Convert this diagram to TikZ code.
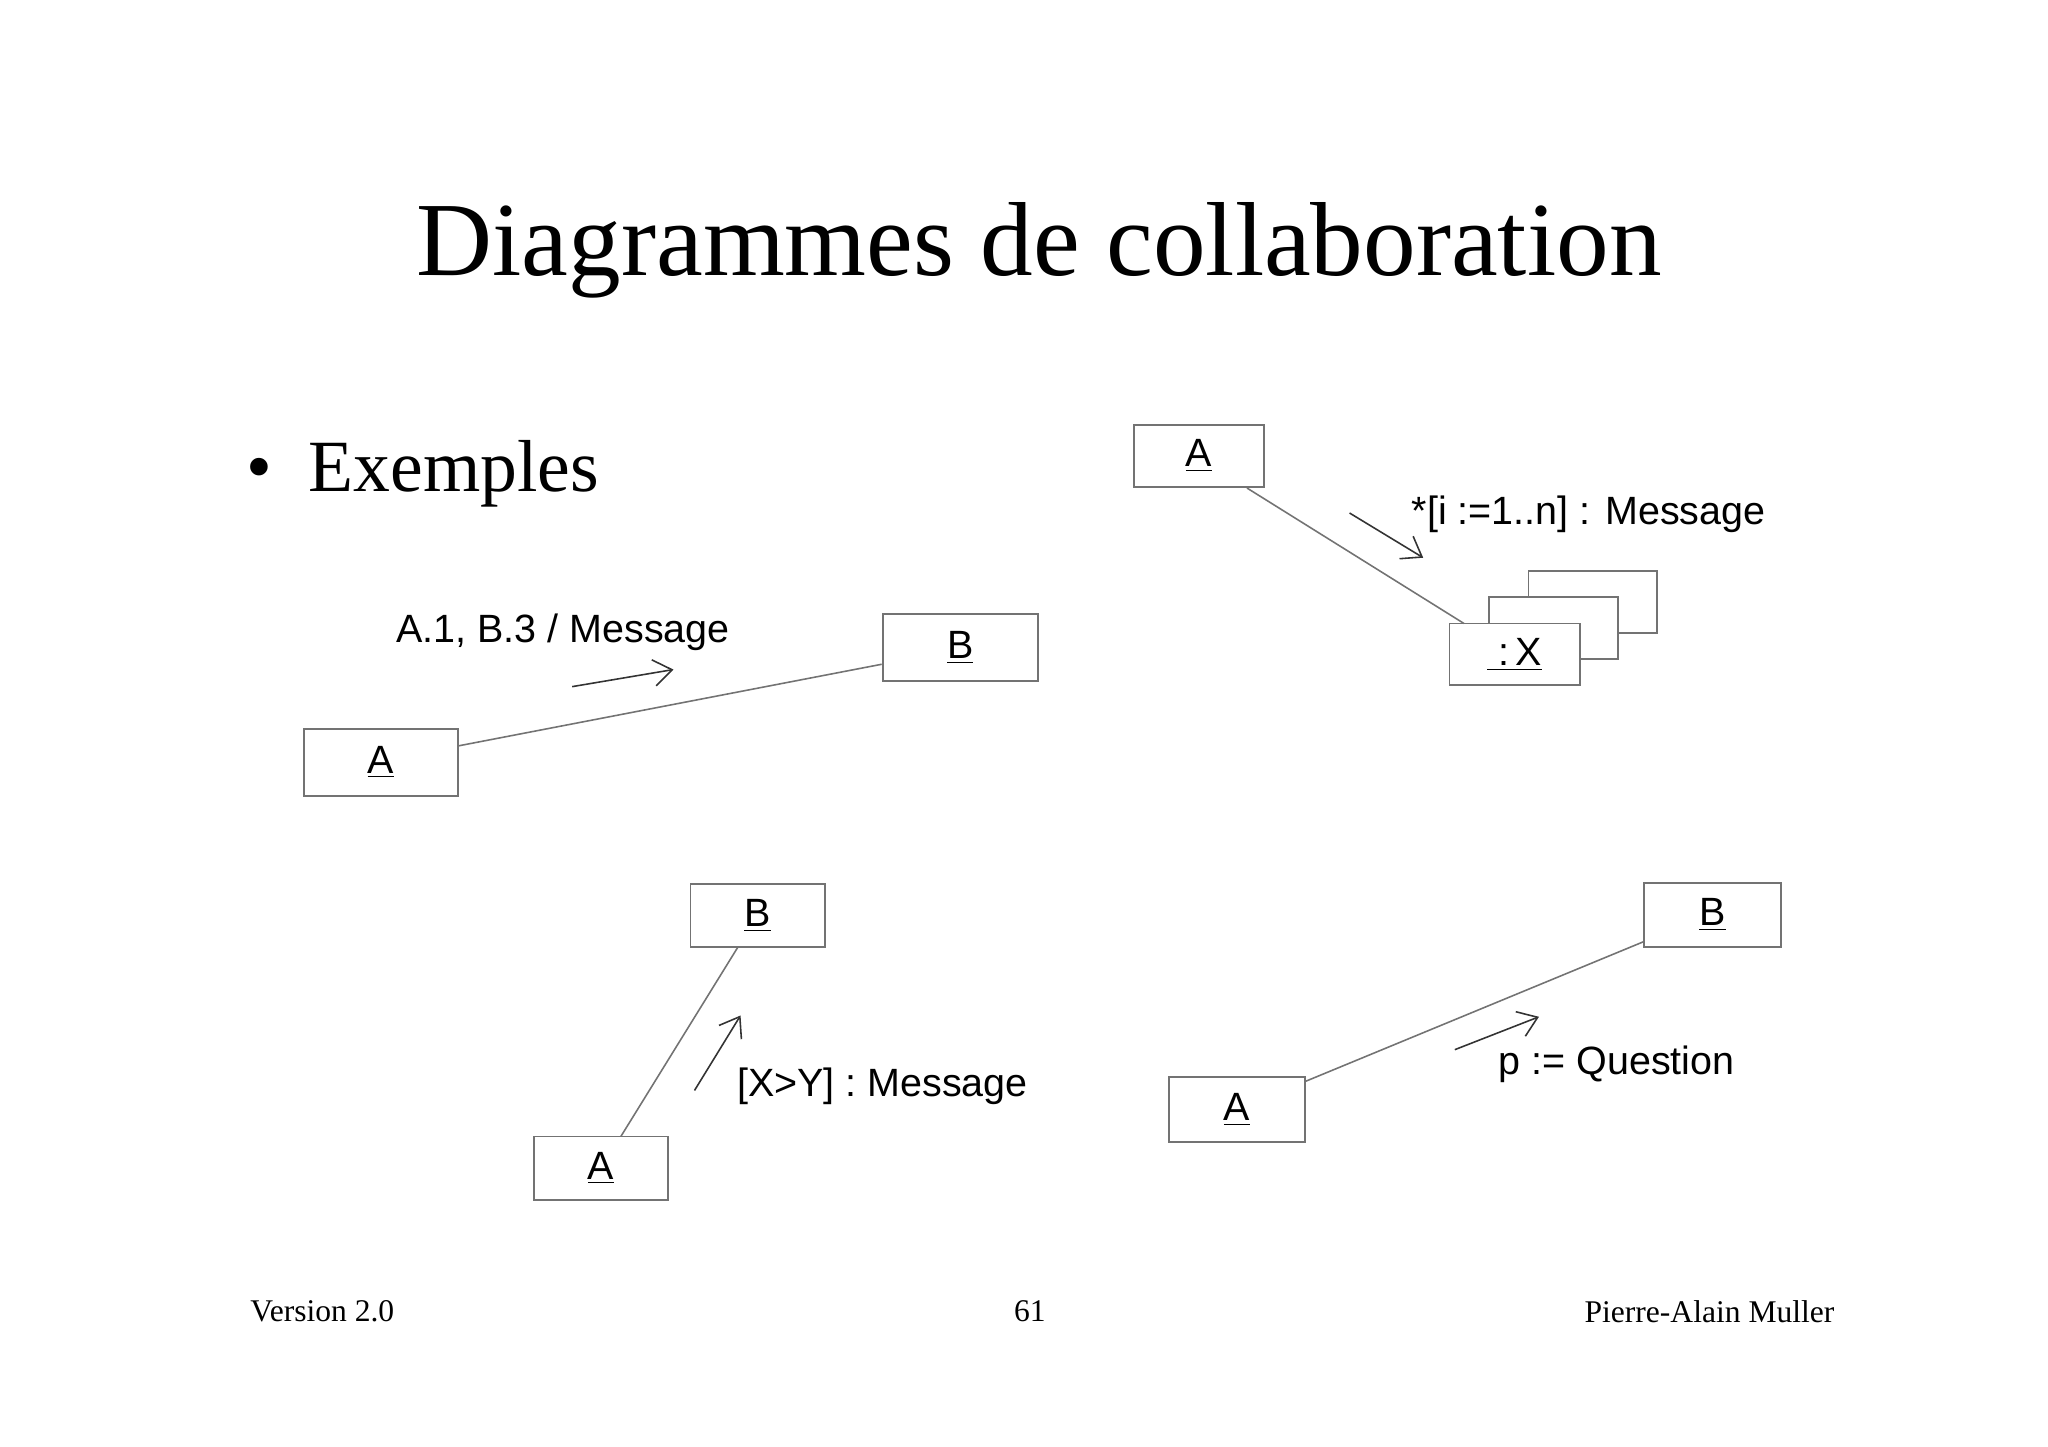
\documentclass[tikz,border=0pt]{standalone}
\usepackage{fontspec}
\setmainfont{Liberation Serif}
\newfontfamily\arial{Liberation Sans}
\usetikzlibrary{arrows.meta}
\begin{document}
\begin{tikzpicture}[x=0.5pt,y=-0.5pt,
  obj/.style={draw=black!55,line width=0.7pt,fill=white,inner sep=0pt,font=\arial\fontsize{15}{18}\selectfont},
  link/.style={draw=black!55,line width=0.6pt},
  msg/.style={draw=black!80,line width=0.6pt,-{Straight Barb[length=7pt,width=10pt]}},
  lbl/.style={font=\arial\fontsize{15}{18}\selectfont,inner sep=0pt}]
\useasboundingbox (0,0) rectangle (1557,1100);
\node[font=\fontsize{40}{48}\selectfont] (title) at (790,190) {Diagrammes de collaboration};
\node[font=\fontsize{28}{34}\selectfont,anchor=west] (bul) at (180,360) {\textbullet\ \ Exemples};
% example 1
\node[obj,minimum width=58.5pt,minimum height=25.5pt] (a1) at (289.5,579.5) {\underline{A}};
\node[obj,minimum width=59pt,minimum height=25.5pt] (b1) at (730,492.5) {\underline{B}};
\draw[link] (a1.east |- 0,567) -- (b1.west |- 0,505);
\coordinate (m1s) at (435,522); \coordinate (m1e) at (512,509);
\draw[msg] (m1s) -- (m1e);
\node[lbl] (l1) at (428,481) {A.1, B.3 / Message};
% example 2
\node[obj,minimum width=49.5pt,minimum height=23.5pt] (a2) at (911.5,346.5) {\underline{A}};
\node[obj,minimum width=49pt,minimum height=23.5pt] (x3) at (1211,457.5) {};
\node[obj,minimum width=49pt,minimum height=23.5pt] (x2) at (1181,477.5) {};
\node[obj,minimum width=49.5pt,minimum height=23.5pt] (x1) at (1151.5,497.5) {\underline{\ :\,X}};
\coordinate (l2a) at (948,371); \coordinate (l2b) at (1113,474);
\draw[link] (l2a) -- (l2b);
\coordinate (m2s) at (1026,390); \coordinate (m2e) at (1082,424);
\draw[msg] (m2s) -- (m2e);
\node[lbl,anchor=west] (l2) at (1073,391) {*[i :=1..n] : Message};
% example 3
\node[obj,minimum width=51pt,minimum height=24pt] (b3) at (576,696) {\underline{B}};
\node[obj,minimum width=51pt,minimum height=24pt] (a3) at (457,888) {\underline{A}};
\coordinate (l3a) at (561,720); \coordinate (l3b) at (472,864);
\draw[link] (l3a) -- (l3b);
\coordinate (m3s) at (528,829); \coordinate (m3e) at (563,772);
\draw[msg] (m3s) -- (m3e);
\node[lbl,anchor=west] (l3) at (560,826) {[X>Y] : Message};
% example 4
\node[obj,minimum width=52pt,minimum height=24.5pt] (b4) at (1302,695.5) {\underline{B}};
\node[obj,minimum width=51.5pt,minimum height=24.5pt] (a4) at (940.5,843.5) {\underline{A}};
\draw[link] (a4.east |- 0,822) -- (b4.west |- 0,716);
\coordinate (m4s) at (1106,798); \coordinate (m4e) at (1170,773);
\draw[msg] (m4s) -- (m4e);
\node[lbl,anchor=west] (l4) at (1139,809) {p := Question};
% footer
\node[font=\fontsize{12}{14}\selectfont,anchor=west,inner sep=0pt] (f1) at (190,997) {Version 2.0};
\node[font=\fontsize{12}{14}\selectfont,inner sep=0pt] (f2) at (783,997) {61};
\node[font=\fontsize{12}{14}\selectfont,anchor=east,inner sep=0pt] (f3) at (1395,997) {Pierre-Alain Muller};
\end{tikzpicture}
\end{document}
